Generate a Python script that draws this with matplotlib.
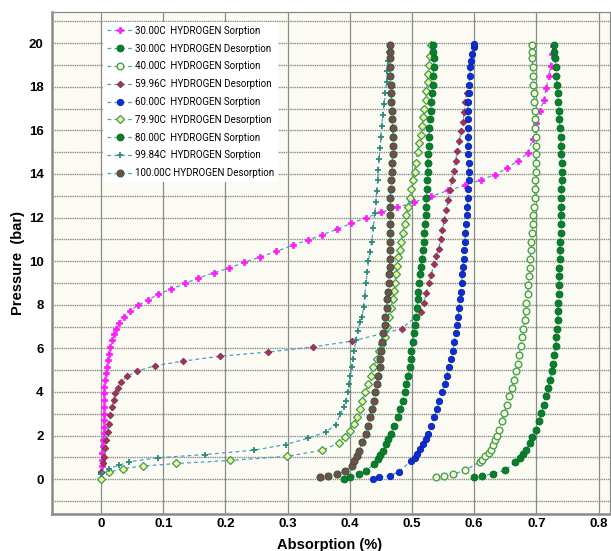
import matplotlib
matplotlib.use("Agg")
import matplotlib.pyplot as plt
from matplotlib.ticker import MultipleLocator, FixedLocator

# --- data (absorption %, pressure bar) ---
s30_x = [0, 0.001, 0.002, 0.002, 0.003, 0.003, 0.004, 0.004, 0.004, 0.004, 0.004, 0.004,
         0.004, 0.005, 0.006, 0.008, 0.009, 0.011, 0.012, 0.014, 0.017, 0.02, 0.024, 0.029,
         0.037, 0.047, 0.059, 0.075, 0.092, 0.112, 0.135, 0.156, 0.181, 0.206, 0.23, 0.256,
         0.282, 0.308, 0.332, 0.355, 0.379, 0.402, 0.426, 0.45, 0.476, 0.503, 0.53, 0.558,
         0.585, 0.611, 0.634, 0.652, 0.67, 0.686, 0.694, 0.7, 0.706, 0.712, 0.716, 0.72,
         0.723, 0.725, 0.727]
s30_p = [0.34, 0.6, 0.9, 1.2, 1.5, 1.8, 2.1, 2.4, 2.7, 3.0, 3.3, 3.62,
         3.93, 4.24, 4.54, 4.85, 5.15, 5.46, 5.76, 6.07, 6.37, 6.64, 6.9, 7.17,
         7.45, 7.72, 7.98, 8.2, 8.5, 8.7, 8.98, 9.22, 9.47, 9.68, 9.95, 10.19,
         10.45, 10.73, 10.96, 11.2, 11.46, 11.73, 11.98, 12.24, 12.46, 12.7, 12.97, 13.24,
         13.48, 13.73, 13.97, 14.25, 14.6, 14.94, 15.6, 16.35, 16.9, 17.4, 17.95, 18.5,
         18.96, 19.5, 19.88]

d30_x = [0.599, 0.613, 0.63, 0.65, 0.666, 0.673, 0.678, 0.683, 0.689, 0.693, 0.7, 0.704,
         0.708, 0.712, 0.716, 0.719, 0.722, 0.725, 0.727, 0.729, 0.731, 0.732, 0.733, 0.734,
         0.735, 0.735, 0.736, 0.736, 0.737, 0.737, 0.738, 0.738, 0.738, 0.739, 0.739, 0.739,
         0.74, 0.74, 0.74, 0.741, 0.741, 0.741, 0.74, 0.739, 0.739, 0.738, 0.737, 0.736,
         0.735, 0.734, 0.733, 0.732, 0.731, 0.73, 0.729, 0.728]
d30_p = [0.08, 0.14, 0.26, 0.41, 0.8, 0.95, 1.15, 1.33, 1.65, 1.95, 2.27, 2.65,
         3.03, 3.4, 3.8, 4.18, 4.56, 4.95, 5.3, 5.7, 6.1, 6.5, 6.9, 7.3,
         7.7, 8.1, 8.5, 8.9, 9.3, 9.7, 10.1, 10.5, 10.9, 11.3, 11.7, 12.1,
         12.5, 12.9, 13.3, 13.7, 14.1, 14.5, 14.9, 15.3, 15.7, 16.1, 16.5, 16.9,
         17.3, 17.7, 18.1, 18.5, 18.9, 19.3, 19.6, 19.9]

s40_x = [0.539, 0.552, 0.566, 0.586, 0.609, 0.613, 0.618, 0.624, 0.627, 0.63, 0.633, 0.636,
         0.64, 0.644, 0.648, 0.652, 0.656, 0.66, 0.664, 0.667, 0.67, 0.672, 0.675, 0.677,
         0.679, 0.681, 0.683, 0.684, 0.686, 0.687, 0.688, 0.689, 0.69, 0.691, 0.692, 0.693,
         0.694, 0.695, 0.696, 0.697, 0.698, 0.698, 0.699, 0.699, 0.699, 0.699, 0.699, 0.698,
         0.698, 0.697, 0.696, 0.696, 0.695, 0.694, 0.694, 0.693, 0.693, 0.693]
s40_p = [0.08, 0.14, 0.23, 0.41, 0.8, 0.9, 1.05, 1.2, 1.35, 1.55, 1.8, 2.0,
         2.27, 2.65, 3.03, 3.4, 3.8, 4.18, 4.56, 4.95, 5.3, 5.7, 6.1, 6.5,
         6.9, 7.3, 7.7, 8.1, 8.5, 8.9, 9.3, 9.7, 10.1, 10.5, 10.9, 11.3,
         11.7, 12.1, 12.5, 12.9, 13.3, 13.7, 14.1, 14.5, 14.9, 15.3, 15.7, 16.1,
         16.5, 16.9, 17.3, 17.7, 18.1, 18.5, 18.9, 19.3, 19.6, 19.9]

d60_x = [0, 0.003, 0.004, 0.006, 0.008, 0.011, 0.012, 0.015, 0.018, 0.02, 0.023, 0.027,
         0.032, 0.041, 0.058, 0.086, 0.131, 0.191, 0.269, 0.341, 0.403, 0.484, 0.515, 0.519,
         0.523, 0.527, 0.531, 0.535, 0.539, 0.543, 0.546, 0.549, 0.552, 0.555, 0.558, 0.561,
         0.564, 0.567, 0.57, 0.573, 0.576, 0.579, 0.582, 0.584, 0.586, 0.588]
d60_p = [0.34, 0.72, 1.02, 1.41, 1.79, 2.17, 2.55, 2.94, 3.32, 3.62, 3.93, 4.2,
         4.46, 4.71, 4.95, 5.2, 5.41, 5.64, 5.83, 6.07, 6.33, 6.9, 7.69, 8.08,
         8.54, 9.0, 9.38, 9.85, 10.23, 10.54, 11.0, 11.45, 11.9, 12.35, 12.8, 13.25,
         13.7, 14.15, 14.6, 15.05, 15.5, 15.95, 16.4, 16.85, 17.3, 17.7]

s60_x = [0.437, 0.447, 0.464, 0.479, 0.499, 0.504, 0.508, 0.513, 0.518, 0.522, 0.526, 0.531,
         0.536, 0.54, 0.544, 0.548, 0.553, 0.556, 0.559, 0.563, 0.566, 0.568, 0.57, 0.572,
         0.574, 0.576, 0.577, 0.579, 0.58, 0.581, 0.582, 0.583, 0.584, 0.585, 0.586, 0.587,
         0.588, 0.589, 0.59, 0.59, 0.591, 0.591, 0.591, 0.59, 0.59, 0.59, 0.59, 0.59,
         0.59, 0.59, 0.591, 0.592, 0.593, 0.594, 0.595, 0.597, 0.599, 0.6]
s60_p = [0.03, 0.08, 0.15, 0.35, 0.85, 0.95, 1.15, 1.4, 1.6, 1.85, 2.08, 2.45,
         2.85, 3.2, 3.6, 4.0, 4.38, 4.75, 5.15, 5.5, 5.9, 6.3, 6.7, 7.05,
         7.46, 7.85, 8.25, 8.6, 9.0, 9.4, 9.75, 10.1, 10.5, 10.9, 11.3, 11.7,
         12.1, 12.5, 12.9, 13.3, 13.7, 14.1, 14.5, 14.9, 15.3, 15.7, 16.1, 16.5,
         16.9, 17.3, 17.7, 18.1, 18.5, 18.9, 19.2, 19.5, 19.8, 19.95]

d80_x = [0, 0.012, 0.035, 0.067, 0.121, 0.2075, 0.2995, 0.356, 0.382, 0.392, 0.4, 0.406,
         0.411, 0.416, 0.42, 0.425, 0.43, 0.434, 0.438, 0.443, 0.447, 0.452, 0.456, 0.459,
         0.4625, 0.466, 0.469, 0.471, 0.472, 0.474, 0.476, 0.478, 0.48, 0.482, 0.485, 0.488,
         0.49, 0.493, 0.496, 0.499, 0.502, 0.504, 0.506, 0.509, 0.511, 0.514, 0.516, 0.518,
         0.52, 0.522, 0.523, 0.525, 0.526, 0.527, 0.529, 0.531]
d80_p = [0.0, 0.31, 0.49, 0.6, 0.72, 0.86, 1.05, 1.33, 1.65, 1.94, 2.23, 2.55,
         2.85, 3.2, 3.6, 4.0, 4.38, 4.75, 5.15, 5.5, 5.9, 6.2, 6.5, 7.0,
         7.46, 7.85, 8.25, 8.65, 9.0, 9.4, 9.8, 10.2, 10.5, 10.9, 11.3, 11.7,
         12.1, 12.5, 12.9, 13.3, 13.7, 14.1, 14.5, 15.0, 15.4, 15.8, 16.2, 16.6,
         17.0, 17.4, 17.8, 18.2, 18.6, 19.0, 19.4, 19.9]

s80_x = [0.391, 0.4, 0.414, 0.426, 0.439, 0.445, 0.449, 0.453, 0.458, 0.462, 0.466, 0.471,
         0.477, 0.481, 0.485, 0.488, 0.491, 0.494, 0.496, 0.498, 0.499, 0.501, 0.503, 0.505,
         0.506, 0.508, 0.509, 0.51, 0.512, 0.513, 0.514, 0.516, 0.518, 0.519, 0.52, 0.521,
         0.522, 0.523, 0.523, 0.524, 0.524, 0.525, 0.525, 0.526, 0.527, 0.527, 0.528, 0.529,
         0.53, 0.531, 0.532, 0.533, 0.534, 0.535, 0.535, 0.534, 0.534]
s80_p = [0.03, 0.08, 0.23, 0.38, 0.69, 0.92, 1.1, 1.3, 1.6, 1.85, 2.08, 2.45,
         2.85, 3.2, 3.6, 4.0, 4.38, 4.75, 5.15, 5.5, 5.9, 6.3, 6.7, 7.05,
         7.46, 7.85, 8.25, 8.6, 9.0, 9.4, 9.75, 10.1, 10.5, 10.9, 11.3, 11.7,
         12.1, 12.5, 12.9, 13.3, 13.7, 14.1, 14.5, 14.9, 15.3, 15.7, 16.1, 16.5,
         16.9, 17.3, 17.7, 18.1, 18.5, 18.9, 19.3, 19.6, 19.9]

s100_x = [0, 0.013, 0.029, 0.045, 0.091, 0.167, 0.246, 0.297, 0.332, 0.362, 0.377, 0.385,
          0.39, 0.394, 0.397, 0.399, 0.401, 0.403, 0.405, 0.407, 0.41, 0.413, 0.416, 0.42,
          0.422, 0.424, 0.426, 0.428, 0.43, 0.432, 0.435, 0.438, 0.44, 0.442, 0.443, 0.445,
          0.446, 0.447, 0.449, 0.45, 0.451, 0.453, 0.455, 0.457, 0.459, 0.46, 0.462, 0.463,
          0.464]
s100_p = [0.26, 0.49, 0.64, 0.8, 0.98, 1.13, 1.33, 1.59, 1.87, 2.17, 2.5, 3.0,
          3.3, 3.6, 4.0, 4.38, 4.75, 5.15, 5.5, 5.9, 6.4, 6.8, 7.2, 7.46,
          7.9, 8.4, 9.0, 9.5, 10.0, 10.4, 10.9, 11.5, 12.2, 12.7, 13.2, 13.7,
          14.2, 14.7, 15.2, 15.7, 16.2, 16.7, 17.2, 17.7, 18.2, 18.7, 19.2, 19.6,
          19.9]

d100_x = [0.352, 0.365, 0.379, 0.392, 0.404, 0.407, 0.411, 0.415, 0.42, 0.426, 0.429, 0.432,
          0.436, 0.439, 0.441, 0.444, 0.446, 0.448, 0.449, 0.45, 0.452, 0.454, 0.456, 0.457,
          0.459, 0.46, 0.461, 0.4625, 0.463, 0.464, 0.465, 0.465, 0.465, 0.465, 0.465, 0.465,
          0.465, 0.465, 0.466, 0.467, 0.468, 0.468, 0.469, 0.469, 0.469, 0.469, 0.468, 0.468,
          0.467, 0.466, 0.466, 0.465, 0.465, 0.464, 0.464, 0.464]
d100_p = [0.1, 0.14, 0.23, 0.38, 0.6, 0.85, 1.08, 1.3, 1.7, 2.08, 2.45, 2.85,
          3.2, 3.6, 4.0, 4.38, 4.75, 5.15, 5.5, 5.9, 6.3, 6.7, 7.05, 7.46,
          7.85, 8.25, 8.6, 9.0, 9.4, 9.75, 10.1, 10.5, 10.9, 11.3, 11.7, 12.1,
          12.5, 12.9, 13.3, 13.7, 14.1, 14.5, 14.9, 15.3, 15.7, 16.1, 16.5, 16.9,
          17.3, 17.7, 18.1, 18.5, 18.9, 19.3, 19.6, 19.9]

x_ticks = [0, 0.1, 0.2, 0.3, 0.4, 0.5, 0.6, 0.7, 0.8]
x_tick_labels = ["0", "0.1", "0.2", "0.3", "0.4", "0.5", "0.6", "0.7", "0.8"]
y_ticks = [0, 2, 4, 6, 8, 10, 12, 14, 16, 18, 20]

LINE = "#4a9fc4"

series = [
    (s30_x, s30_p, "30.00C  HYDROGEN Sorption",
     dict(marker="P", ms=5.0, mfc="#ff19ff", mec="#ff19ff", mew=0.5)),
    (d30_x, d30_p, "30.00C  HYDROGEN Desorption",
     dict(marker="o", ms=5.0, mfc="#07802c", mec="#066b25", mew=0.6)),
    (s40_x, s40_p, "40.00C  HYDROGEN Sorption",
     dict(marker="o", ms=4.8, mfc="#fbfad2", mec="#45a05a", mew=1.0)),
    (d60_x, d60_p, "59.96C  HYDROGEN Desorption",
     dict(marker="D", ms=3.4, mfc="#b22a5c", mec="#6e3a48", mew=0.6)),
    (s60_x, s60_p, "60.00C  HYDROGEN Sorption",
     dict(marker="o", ms=4.6, mfc="#0a2fd8", mec="#0a1fa0", mew=0.6)),
    (d80_x, d80_p, "79.90C  HYDROGEN Desorption",
     dict(marker="D", ms=3.8, mfc="#eef7a0", mec="#3f9a55", mew=0.9)),
    (s80_x, s80_p, "80.00C  HYDROGEN Sorption",
     dict(marker="o", ms=5.0, mfc="#07802c", mec="#066b25", mew=0.6)),
    (s100_x, s100_p, "99.84C  HYDROGEN Sorption",
     dict(marker="+", ms=5.0, mfc="#2e8b7a", mec="#2e8b7a", mew=1.3)),
    (d100_x, d100_p, "100.00C HYDROGEN Desorption",
     dict(marker="o", ms=5.0, mfc="#7b4b4b", mec="#2f5e40", mew=0.8)),
]

fig = plt.figure(figsize=(6.11, 5.51), dpi=100)
ax = fig.add_axes([0.085, 0.067, 0.913, 0.911])
ax.set_facecolor("#fcfbf3")

for x, p, label, style in series:
    ax.plot(x, p, ls=(0, (3, 2.5)), lw=0.9, color=LINE, label=label, **style)

ax.set_xlim(-0.079, 0.818)
ax.set_ylim(-1.6, 21.42)

ax.xaxis.set_major_locator(FixedLocator(x_ticks))
ax.set_xticklabels(x_tick_labels)
ax.yaxis.set_major_locator(FixedLocator(y_ticks))
ax.yaxis.set_minor_locator(MultipleLocator(1))

ax.grid(True, axis="x", which="major", color="#8c8c88", lw=0.9, ls="-")
ax.grid(True, axis="y", which="both", color="#8c8c88", lw=1.0, ls=(0, (1, 0.6)))
ax.set_axisbelow(True)
ax.tick_params(which="both", length=0)
ax.tick_params(axis="x", pad=3)
ax.tick_params(axis="y", pad=6)
for lab in ax.get_xticklabels() + ax.get_yticklabels():
    lab.set_fontweight("bold")
    lab.set_fontsize(9.5)
    lab.set_family("Liberation Sans")

for name, sp in ax.spines.items():
    sp.set_color("#8a8a86")
    sp.set_linewidth(0.9)
ax.spines["left"].set_linewidth(1.8)
ax.spines["bottom"].set_linewidth(1.8)

fig.text(0.54, 0.011, "Absorption (%)", fontsize=10.5, fontweight="bold",
         family="Liberation Sans", ha="center", va="center")
fig.text(0.03, 0.523, "Pressure  (bar)", fontsize=10.5, fontweight="bold",
         family="Liberation Sans", ha="center", va="center", rotation=90)

leg = ax.legend(loc="upper left", bbox_to_anchor=(0.083, 0.99),
                prop={"family": "Roboto", "size": 7},
                frameon=True, facecolor="white", edgecolor="white", framealpha=1,
                handlelength=2.6, handletextpad=0.3, labelspacing=0.8,
                borderpad=0.4, fancybox=False)
leg.get_frame().set_linewidth(0)

fig.savefig("out.png", dpi=100, facecolor="white")
